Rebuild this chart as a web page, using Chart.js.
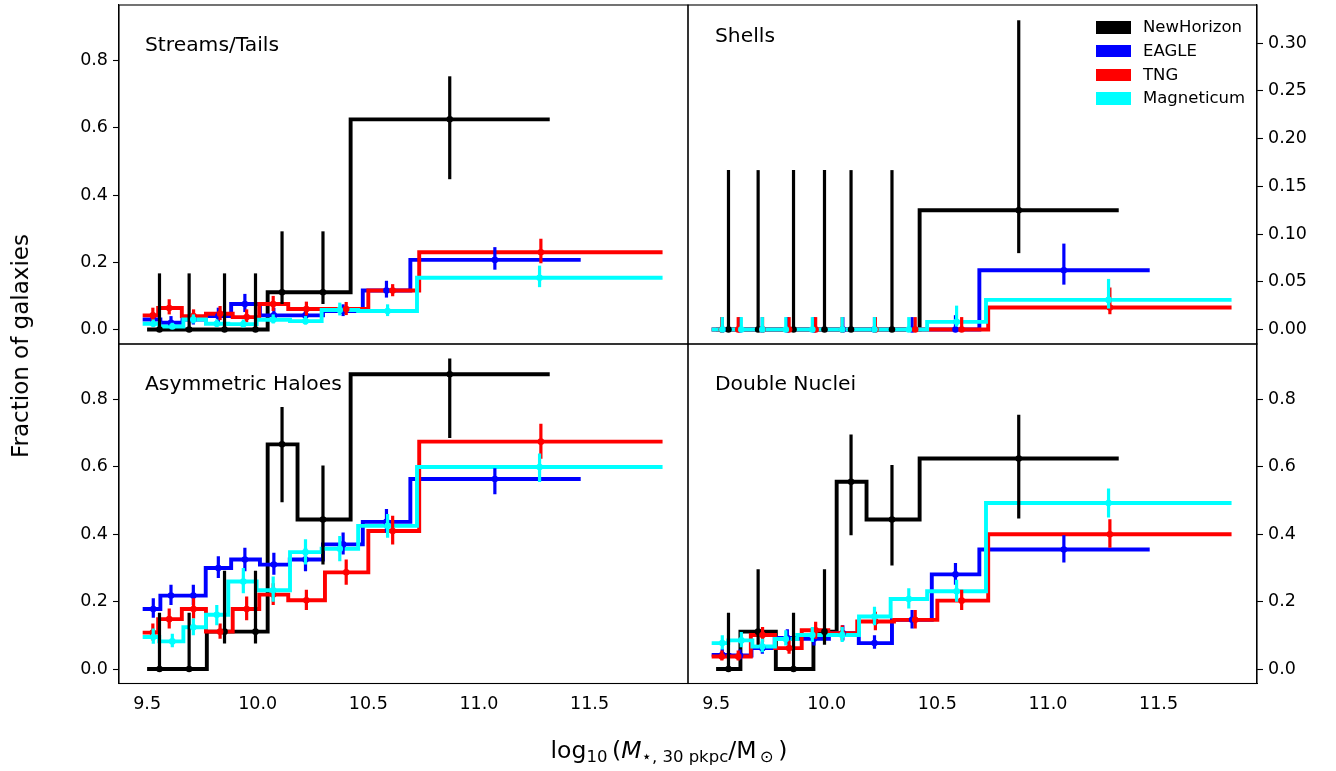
<!DOCTYPE html>
<html>
<head>
<meta charset="utf-8">
<script src="https://cdn.jsdelivr.net/npm/chart.js@4.4.0/dist/chart.umd.min.js"></script>
<style>
html,body{margin:0;padding:0;background:#fff;}
body{width:1336px;height:771px;position:relative;overflow:hidden;font-family:'DejaVu Sans',sans-serif;color:#000;}
canvas{position:absolute;}
.ptitle{position:absolute;font-size:20.3px;line-height:20px;white-space:nowrap;}
.legrow{position:absolute;left:1096px;height:20px;white-space:nowrap;font-size:16.5px;line-height:20px;}
.legrow span.sw{position:absolute;left:0;top:4px;width:35px;height:12.5px;}
.legrow span.tx{position:absolute;left:47px;top:0;}
#ylab{position:absolute;left:20px;top:346px;font-size:23px;white-space:nowrap;transform:translate(-50%,-50%) rotate(-90deg);}
#xlab{position:absolute;left:669px;top:751px;font-size:23.5px;white-space:nowrap;transform:translate(-50%,-50%);}
#xlab sub{font-size:16.5px;vertical-align:-4px;}
</style>
</head>
<body>
<canvas id="cTL" width="700" height="360" style="left:0px;top:0px;"></canvas>
<canvas id="cTR" width="676" height="360" style="left:660px;top:0px;"></canvas>
<canvas id="cBL" width="700" height="441" style="left:0px;top:330px;"></canvas>
<canvas id="cBR" width="676" height="441" style="left:660px;top:330px;"></canvas>
<div id="titles"></div>
<div id="legend"></div>
<div id="ylab">Fraction of galaxies</div>
<div id="xlab">log<sub>10</sub>&#8201;(<i>M</i><sub>&#8902;, 30 pkpc</sub>/M<sub>&#8201;&#8857;</sub>&#8201;)</div>
<script>
// ---------------- data ----------------
const simNames = ['NewHorizon', 'EAGLE', 'TNG', 'Magneticum'];
const simColors = ['#000000', '#0000ff', '#ff0000', '#00ffff'];
const panelTitles = ['Streams/Tails', 'Shells', 'Asymmetric Haloes', 'Double Nuclei'];
const xTicks = [9.5, 10.0, 10.5, 11.0, 11.5];
const yTicksFraction = [0.0, 0.2, 0.4, 0.6, 0.8];
const yTicksShells = [0.00, 0.05, 0.10, 0.15, 0.20, 0.25, 0.30];

// stellar-mass bin edges and bin positions of each simulation
const nhEdges = [9.50, 9.61, 9.77, 9.94, 10.045, 10.18, 10.42, 11.32];
const nhX = [9.556, 9.69, 9.85, 9.99, 10.11, 10.295, 10.868];
const eagleEdges = [9.48, 9.56, 9.66, 9.765, 9.88, 10.01, 10.145, 10.295, 10.475, 10.69, 11.46];
const eagleX = [9.528, 9.608, 9.709, 9.822, 9.942, 10.073, 10.216, 10.386, 10.582, 11.072];
const tngEdges = [9.48, 9.55, 9.657, 9.766, 9.887, 10.007, 10.138, 10.304, 10.50, 10.73, 11.83];
const tngX = [9.526, 9.60, 9.71, 9.83, 9.95, 10.07, 10.22, 10.40, 10.61, 11.28];
const magEdges = [9.48, 9.555, 9.664, 9.766, 9.867, 9.995, 10.146, 10.289, 10.454, 10.72, 11.83];
const magX = [9.528, 9.614, 9.709, 9.815, 9.935, 10.07, 10.216, 10.371, 10.587, 11.274];

// Streams/Tails
const streamsNH = [0, 0, 0, 0, 0.111, 0.111, 0.625];
const streamsNHLo = [0, 0, 0, 0, 0.076, 0.076, 0.447];
const streamsNHHi = [0.167, 0.167, 0.167, 0.167, 0.292, 0.292, 0.753];
const streamsEAGLE = [0.03, 0.02, 0.03, 0.04, 0.076, 0.042, 0.042, 0.055, 0.116, 0.207];
const streamsEAGLELo = [0.015, 0.008, 0.015, 0.022, 0.052, 0.025, 0.027, 0.04, 0.095, 0.178];
const streamsEAGLEHi = [0.05, 0.04, 0.05, 0.065, 0.106, 0.065, 0.062, 0.075, 0.145, 0.245];
const streamsTNG = [0.042, 0.064, 0.04, 0.047, 0.037, 0.076, 0.061, 0.061, 0.116, 0.23];
const streamsTNGLo = [0.025, 0.045, 0.022, 0.028, 0.022, 0.055, 0.042, 0.043, 0.099, 0.197];
const streamsTNGHi = [0.065, 0.09, 0.06, 0.07, 0.06, 0.1, 0.083, 0.082, 0.135, 0.27];
const streamsMAG = [0.017, 0.009, 0.03, 0.017, 0.016, 0.029, 0.025, 0.058, 0.055, 0.154];
const streamsMAGLo = [0.008, 0.003, 0.018, 0.008, 0.008, 0.018, 0.015, 0.042, 0.04, 0.126];
const streamsMAGHi = [0.03, 0.02, 0.045, 0.03, 0.03, 0.045, 0.04, 0.08, 0.075, 0.19];

// Shells
const shellsNH = [0, 0, 0, 0, 0, 0, 0.125];
const shellsNHLo = [0, 0, 0, 0, 0, 0, 0.080];
const shellsNHHi = [0.167, 0.167, 0.167, 0.167, 0.167, 0.167, 0.324];
const shellsEAGLE = [0, 0, 0, 0, 0, 0, 0, 0, 0, 0.062];
const shellsEAGLELo = [0, 0, 0, 0, 0, 0, 0, 0, 0, 0.047];
const shellsEAGLEHi = [0.013, 0.013, 0.013, 0.013, 0.013, 0.013, 0.013, 0.013, 0.015, 0.090];
const shellsTNG = [0, 0, 0, 0, 0, 0, 0, 0, 0, 0.023];
const shellsTNGLo = [0, 0, 0, 0, 0, 0, 0, 0, 0, 0.016];
const shellsTNGHi = [0.013, 0.013, 0.013, 0.013, 0.013, 0.013, 0.013, 0.013, 0.013, 0.044];
const shellsMAG = [0, 0, 0, 0, 0, 0, 0, 0, 0.008, 0.031];
const shellsMAGLo = [0, 0, 0, 0, 0, 0, 0, 0, 0.003, 0.022];
const shellsMAGHi = [0.013, 0.013, 0.013, 0.013, 0.013, 0.013, 0.013, 0.013, 0.025, 0.053];

// Asymmetric Haloes
const haloesNH = [0, 0, 0.111, 0.111, 0.667, 0.444, 0.875];
const haloesNHLo = [0, 0, 0.076, 0.076, 0.495, 0.31, 0.686];
const haloesNHHi = [0.167, 0.167, 0.292, 0.292, 0.778, 0.604, 0.922];
const haloesEAGLE = [0.178, 0.218, 0.218, 0.30, 0.325, 0.31, 0.325, 0.37, 0.437, 0.564];
const haloesEAGLELo = [0.152, 0.19, 0.19, 0.27, 0.29, 0.28, 0.29, 0.34, 0.405, 0.519];
const haloesEAGLEHi = [0.21, 0.25, 0.25, 0.335, 0.36, 0.345, 0.36, 0.405, 0.475, 0.596];
const haloesTNG = [0.108, 0.148, 0.178, 0.111, 0.178, 0.221, 0.204, 0.287, 0.41, 0.675];
const haloesTNGLo = [0.085, 0.12, 0.15, 0.09, 0.145, 0.19, 0.175, 0.25, 0.37, 0.624];
const haloesTNGHi = [0.135, 0.18, 0.21, 0.135, 0.215, 0.255, 0.235, 0.325, 0.455, 0.728];
const haloesMAG = [0.095, 0.082, 0.124, 0.161, 0.26, 0.234, 0.347, 0.357, 0.425, 0.60];
const haloesMAGLo = [0.075, 0.065, 0.1, 0.13, 0.225, 0.2, 0.31, 0.32, 0.39, 0.555];
const haloesMAGHi = [0.12, 0.105, 0.15, 0.19, 0.3, 0.275, 0.385, 0.395, 0.46, 0.64];

// Double Nuclei
const nucleiNH = [0, 0.111, 0, 0.111, 0.556, 0.444, 0.625];
const nucleiNHLo = [0, 0.072, 0, 0.072, 0.397, 0.307, 0.447];
const nucleiNHHi = [0.167, 0.296, 0.167, 0.296, 0.696, 0.606, 0.755];
const nucleiEAGLE = [0.042, 0.04, 0.062, 0.092, 0.09, 0.106, 0.077, 0.146, 0.281, 0.355];
const nucleiEAGLELo = [0.03, 0.028, 0.045, 0.072, 0.07, 0.085, 0.06, 0.12, 0.25, 0.316];
const nucleiEAGLEHi = [0.06, 0.058, 0.082, 0.118, 0.115, 0.13, 0.1, 0.175, 0.315, 0.397];
const nucleiTNG = [0.037, 0.037, 0.101, 0.062, 0.115, 0.106, 0.141, 0.146, 0.203, 0.40];
const nucleiTNGLo = [0.025, 0.025, 0.08, 0.045, 0.09, 0.085, 0.115, 0.12, 0.175, 0.36];
const nucleiTNGHi = [0.055, 0.055, 0.125, 0.085, 0.14, 0.13, 0.17, 0.175, 0.235, 0.445];
const nucleiMAG = [0.077, 0.085, 0.067, 0.089, 0.101, 0.101, 0.156, 0.208, 0.231, 0.493];
const nucleiMAGLo = [0.058, 0.065, 0.05, 0.07, 0.08, 0.08, 0.13, 0.18, 0.2, 0.45];
const nucleiMAGHi = [0.1, 0.11, 0.09, 0.115, 0.125, 0.125, 0.185, 0.24, 0.265, 0.536];

// ---------------- layout / style ----------------
const FONT = "'DejaVu Sans', 'Liberation Sans', sans-serif";
const X_MIN = 9.373, X_MAX = 11.945;
const sims = [
  { edges: nhEdges, x: nhX },
  { edges: eagleEdges, x: eagleX },
  { edges: tngEdges, x: tngX },
  { edges: magEdges, x: magX }
];

const panels = [
  { id: 'cTL', vals: [streamsNH, streamsEAGLE, streamsTNG, streamsMAG],
    lo: [streamsNHLo, streamsEAGLELo, streamsTNGLo, streamsMAGLo],
    hi: [streamsNHHi, streamsEAGLEHi, streamsTNGHi, streamsMAGHi],
    yTicks: yTicksFraction, dec: 1, yMin: -0.043, yMax: 0.965, side: 'left', showX: false,
    pad: { left: 0, top: 5, right: 12, bottom: 16 }, axisW: 119,
    title: { text: panelTitles[0], left: 145, top: 34 } },
  { id: 'cTR', vals: [shellsNH, shellsEAGLE, shellsTNG, shellsMAG],
    lo: [shellsNHLo, shellsEAGLELo, shellsTNGLo, shellsMAGLo],
    hi: [shellsNHHi, shellsEAGLEHi, shellsTNGHi, shellsMAGHi],
    yTicks: yTicksShells, dec: 2, yMin: -0.0152, yMax: 0.340, side: 'right', showX: false,
    pad: { left: 28, top: 5, right: 0, bottom: 16 }, axisW: 79,
    title: { text: panelTitles[1], left: 715, top: 25 } },
  { id: 'cBL', vals: [haloesNH, haloesEAGLE, haloesTNG, haloesMAG],
    lo: [haloesNHLo, haloesEAGLELo, haloesTNGLo, haloesMAGLo],
    hi: [haloesNHHi, haloesEAGLEHi, haloesTNGHi, haloesMAGHi],
    yTicks: yTicksFraction, dec: 1, yMin: -0.043, yMax: 0.965, side: 'left', showX: true,
    pad: { left: 0, top: 14, right: 12, bottom: 47.5 }, axisW: 119,
    title: { text: panelTitles[2], left: 145, top: 373 } },
  { id: 'cBR', vals: [nucleiNH, nucleiEAGLE, nucleiTNG, nucleiMAG],
    lo: [nucleiNHLo, nucleiEAGLELo, nucleiTNGLo, nucleiMAGLo],
    hi: [nucleiNHHi, nucleiEAGLEHi, nucleiTNGHi, nucleiMAGHi],
    yTicks: yTicksFraction, dec: 1, yMin: -0.043, yMax: 0.965, side: 'right', showX: true,
    pad: { left: 28, top: 14, right: 0, bottom: 47.5 }, axisW: 79,
    title: { text: panelTitles[3], left: 715, top: 373 } }
];

const errorBarPlugin = {
  id: 'errbars',
  beforeDatasetDraw(chart, args) {
    const ds = chart.data.datasets[args.index];
    if (!ds.errLo) return;
    const xs = chart.scales.x, ys = chart.scales.y, a = chart.chartArea, ctx = chart.ctx;
    ctx.save();
    ctx.beginPath();
    ctx.rect(a.left, a.top, a.right - a.left, a.bottom - a.top);
    ctx.clip();
    ctx.strokeStyle = ds.backgroundColor;
    ctx.lineWidth = 3.2;
    ctx.lineCap = 'butt';
    ds.data.forEach((pt, i) => {
      const px = xs.getPixelForValue(pt.x);
      ctx.beginPath();
      ctx.moveTo(px, ys.getPixelForValue(ds.errLo[i]));
      ctx.lineTo(px, ys.getPixelForValue(ds.errHi[i]));
      ctx.stroke();
    });
    ctx.restore();
  }
};

const framePlugin = {
  id: 'frame',
  afterDraw(chart) {
    const a = chart.chartArea, ctx = chart.ctx;
    ctx.save();
    ctx.strokeStyle = '#000';
    ctx.lineWidth = 1.1;
    ctx.strokeRect(a.left, a.top, a.right - a.left, a.bottom - a.top);
    ctx.restore();
  }
};

function makeChart(p) {
  const datasets = [];
  sims.forEach((s, k) => {
    const v = p.vals[k];
    const pts = s.edges.map((e, i) => ({ x: e, y: v[Math.min(i, v.length - 1)] }));
    datasets.push({
      label: simNames[k] + ' steps', data: pts, stepped: 'before',
      borderColor: simColors[k], backgroundColor: simColors[k], borderWidth: 3.9,
      pointRadius: 0, fill: false, order: 8 - k, borderCapStyle: 'butt', borderJoinStyle: 'miter'
    });
  });
  sims.forEach((s, k) => {
    datasets.push({
      label: simNames[k], data: s.x.map((x, i) => ({ x: x, y: p.vals[k][i] })),
      showLine: false, backgroundColor: simColors[k], borderColor: simColors[k],
      borderWidth: 0, pointRadius: 3.3, pointHoverRadius: 3.3, order: 4 - k,
      errLo: p.lo[k], errHi: p.hi[k]
    });
  });
  const tickFont = { family: FONT, size: 17.5 };
  new Chart(document.getElementById(p.id), {
    type: 'line',
    data: { datasets: datasets },
    plugins: [errorBarPlugin, framePlugin],
    options: {
      responsive: false, animation: false, events: [],
      layout: { padding: p.pad },
      plugins: { legend: { display: false }, tooltip: { enabled: false }, title: { display: false } },
      scales: {
        x: {
          type: 'linear', min: X_MIN, max: X_MAX, display: p.showX, position: 'bottom',
          afterBuildTicks: sc => { sc.ticks = xTicks.map(v => ({ value: v })); },
          afterFit: sc => { sc.height = p.showX ? 40 : 0; sc.paddingLeft = 0; sc.paddingRight = 0; },
          ticks: { callback: v => Number(v).toFixed(1), color: '#000', font: tickFont, padding: 10, maxRotation: 0, autoSkip: false },
          grid: { drawOnChartArea: false, drawTicks: false },
          border: { display: true, color: '#000', width: 1.1 }
        },
        y: {
          type: 'linear', min: p.yMin, max: p.yMax, position: p.side,
          afterBuildTicks: sc => { sc.ticks = p.yTicks.map(v => ({ value: v })); },
          afterFit: sc => { sc.width = p.axisW; sc.paddingTop = 0; sc.paddingBottom = 0; },
          ticks: { callback: v => Number(v).toFixed(p.dec), color: '#000', font: tickFont, padding: 5, autoSkip: false },
          grid: { drawOnChartArea: false, drawTicks: true, tickLength: 6, tickColor: '#000', tickWidth: 1.1 },
          border: { display: true, color: '#000', width: 1.1 }
        }
      }
    }
  });
  const t = document.createElement('div');
  t.className = 'ptitle';
  t.textContent = p.title.text;
  t.style.left = p.title.left + 'px';
  t.style.top = p.title.top + 'px';
  document.getElementById('titles').appendChild(t);
}

panels.forEach(makeChart);

// legend (patch handles)
const legendRowTops = [17, 40.5, 64.5, 88];
simNames.forEach((n, k) => {
  const r = document.createElement('div');
  r.className = 'legrow';
  r.style.top = legendRowTops[k] + 'px';
  r.innerHTML = '<span class="sw" style="background:' + simColors[k] + '"></span><span class="tx"></span>';
  r.querySelector('.tx').textContent = n;
  document.getElementById('legend').appendChild(r);
});
</script>
</body>
</html>
